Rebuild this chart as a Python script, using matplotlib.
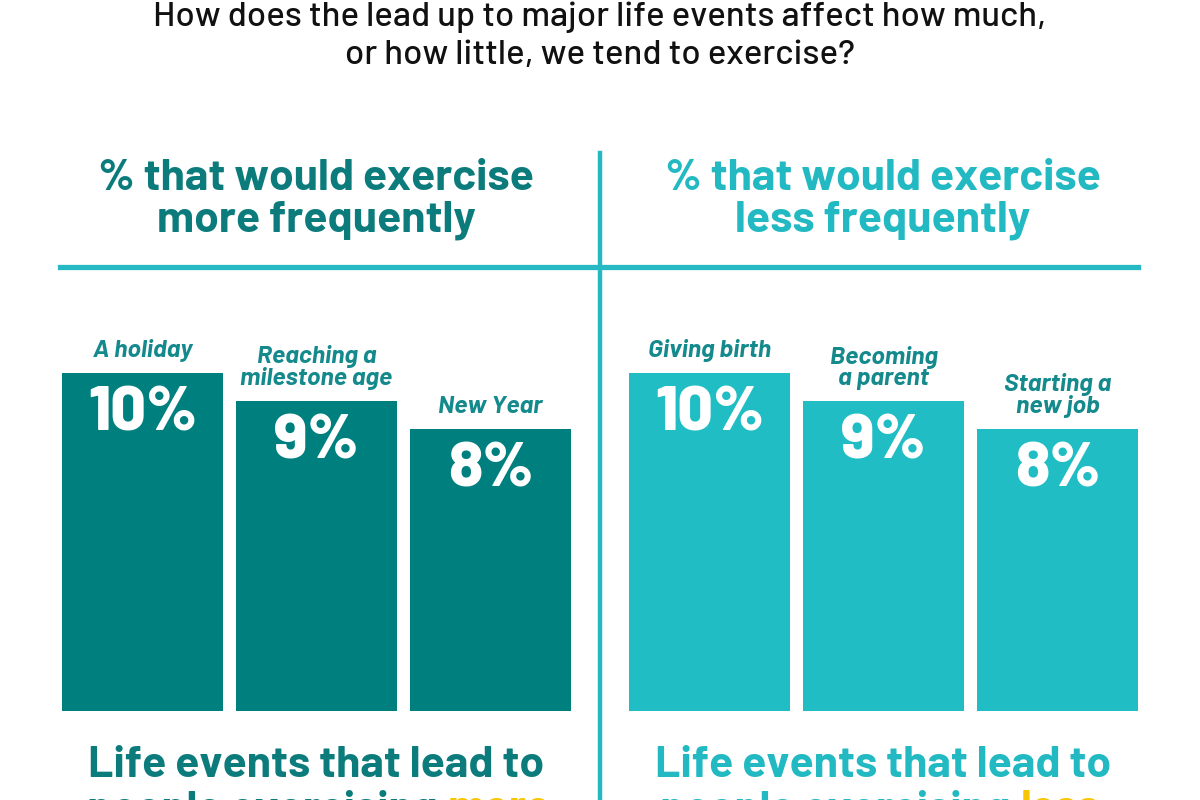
import matplotlib
matplotlib.use("Agg")
import matplotlib.pyplot as plt
from matplotlib.lines import Line2D

# data
more_events = ["A holiday", "Reaching a\nmilestone age", "New Year"]
more_values = [10, 9, 8]
less_events = ["Giving birth", "Becoming\na parent", "Starting a\nnew job"]
less_values = [10, 9, 8]

title_lines = ["How does the lead up to major life events affect how much,",
               "or how little, we tend to exercise?"]
head_more = ["% that would exercise", "more frequently"]
head_less = ["% that would exercise", "less frequently"]

dark = "#007f7f"
dark_txt = "#0c7b7c"
light = "#21bdc5"
light_txt = "#22b9c2"
label_col = "#158a8d"
yellow = "#f7c600"

font = "Barlow"

fig = plt.figure(figsize=(12, 8), dpi=100)
W, H = 1200, 800


def fx(px):
    return px / W


def fy(py):
    return 1 - py / H


for line, base_px in zip(title_lines, [26, 64]):
    fig.text(0.5, fy(base_px), line, ha="center", va="baseline", family=font,
             fontweight=500, fontsize=25, color="#111111")

for lines, cx, col in [(head_more, 316, dark_txt), (head_less, 883, light_txt)]:
    for line, base_px in zip(lines, [190, 231]):
        fig.text(fx(cx), fy(base_px), line, ha="center", va="baseline", family=font,
                 fontweight="bold", fontsize=32, color=col)

# divider lines
fig.add_artist(Line2D([fx(60), fx(1138)], [fy(267), fy(267)], color="#27b9c3", lw=3.8))
fig.add_artist(Line2D([fx(600), fx(600)], [fy(153), fy(800)], color="#27b9c3", lw=3.2))

base = -2.07


def panel(left_px, events, values, color):
    ax = fig.add_axes([fx(left_px), fy(711), fx(509), 338 / H])
    x = range(len(values))
    ax.bar(x, [v - base for v in values], bottom=base, width=0.925, color=color)
    ax.set_xlim(-0.4625, len(values) - 0.5375)
    ax.set_ylim(base, 10)
    ax.axis("off")
    for i, (ev, v) in enumerate(zip(events, values)):
        ax.annotate(ev, (i, v), xytext=(0, 8), textcoords="offset points",
                    ha="center", va="bottom", family=font, fontweight="bold",
                    style="italic", fontsize=18, color=label_col,
                    linespacing=0.95, annotation_clip=False)
        ax.annotate(f"{v}%", (i, v), xytext=(0, -10), textcoords="offset points",
                    ha="center", va="top", family=font, fontweight=800,
                    fontsize=45, color="white", annotation_clip=False)
    return ax


panel(62, more_events, more_values, dark)
panel(629, less_events, less_values, light)

# bottom captions (second line cut by the canvas edge, as in the source)
cap = dict(va="baseline", family=font, fontweight="bold", fontsize=32)
fig.text(fx(316), fy(777), "Life events that lead to", ha="center", color=dark_txt, **cap)
fig.text(fx(883), fy(777), "Life events that lead to", ha="center", color=light_txt, **cap)
fig.text(fx(437), fy(821), "people exercising", ha="right", color=dark_txt, **cap)
fig.text(fx(448), fy(821), "more", ha="left", color=yellow, **cap)
fig.text(fx(1010), fy(821), "people exercising", ha="right", color=light_txt, **cap)
fig.text(fx(1021), fy(821), "less", ha="left", color=yellow, **cap)

fig.savefig("out.png", dpi=100)
